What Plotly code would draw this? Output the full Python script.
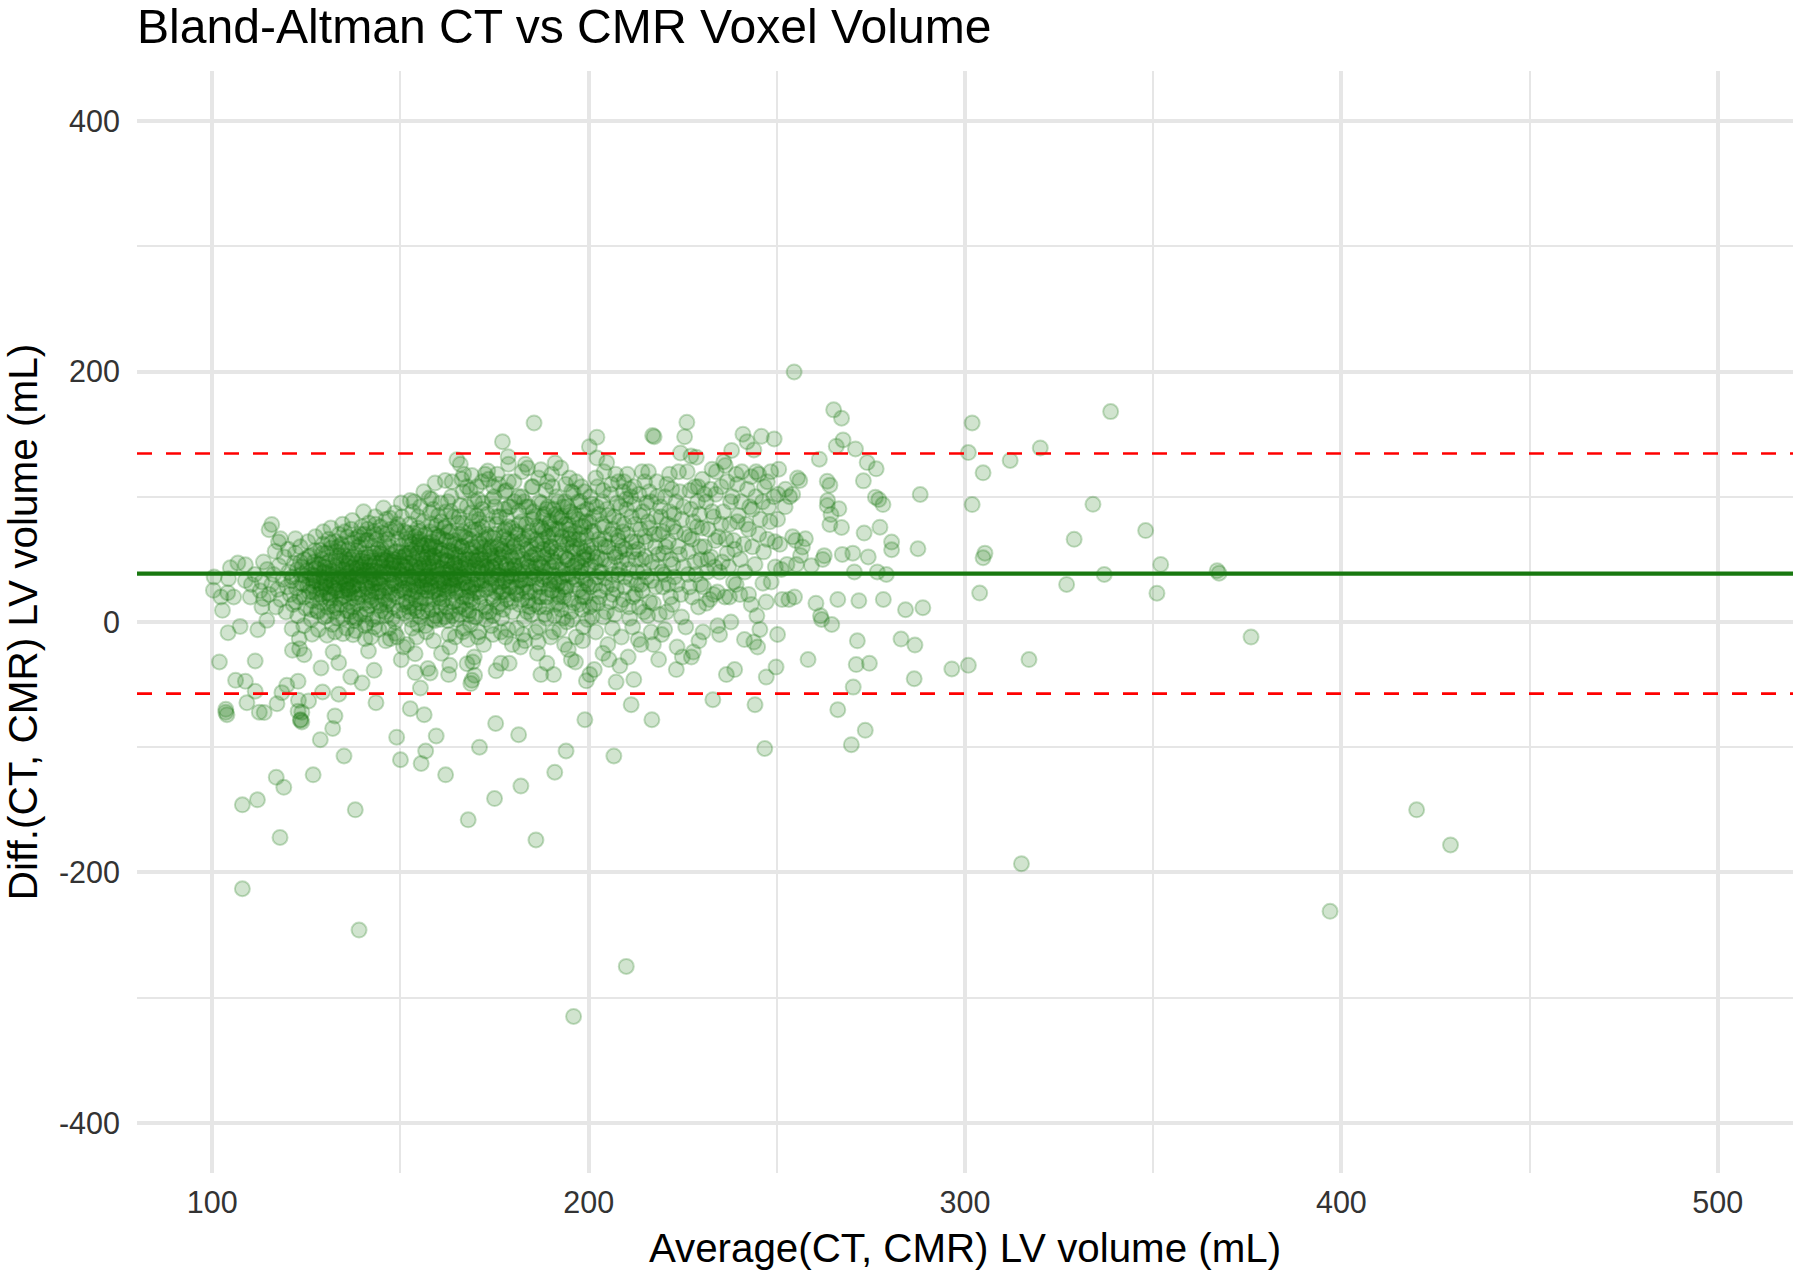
"""Bland-Altman plot of CT vs CMR LV voxel volume."""

import plotly.graph_objects as go

# values as (average, difference) in mL
far_right = [
    (254.6, 199.7), (265.1, 169.4), (267.2, 162.7), (301.9, 159), (338.7, 168), (320, 139), (312, 129),
    (300.9, 135.3), (304.8, 119.1), (301.9, 93.8), (334, 94), (288.1, 101.8), (329, 66), (348, 73),
    (352, 46), (367, 41), (367.5, 39), (305.3, 55), (304.8, 51.3), (303.9, 23.1), (327, 30), (337, 38),
    (351, 23), (376, -12), (296.5, -37.5), (300.9, -34.6), (317, -30), (315, -193), (397, -231),
    (420, -150), (429, -178), (287.5, 58.5), (284.2, 9.8), (288.8, 11.4), (283, -13.6), (286.7, -18.4),
    (286.5, -45.3),
]
low_outliers = [
    (196, -315), (210, -275), (139, -246), (108, -213), (118, -172), (186, -174), (138, -150), (108, -146),
    (112, -142), (117, -124), (119, -132), (168, -158), (175, -141), (182, -131), (191, -120), (194, -103),
    (206.7, -107), (246.8, -101), (269.8, -98), (273.5, -86.5), (266.2, -70), (128.7, -94), (132, -85),
    (132.6, -75), (149, -92), (150, -110), (155.5, -113), (156.7, -103), (159.5, -91), (162, -122),
    (171, -100), (175.3, -81), (181.4, -90), (199, -78), (211.3, -66), (216.8, -78), (233, -62),
    (244.2, -66), (126.8, -122), (135, -107), (123.8, -72), (123.5, -78), (103.6, -72), (103.9, -74),
    (112.5, -72),
]
left_fringe = [
    (100.5, 35.9), (104.3, 34.6), (108.8, 33.2), (100.3, 25.3), (102.3, 20), (104.1, 23.4), (105.7, 20),
    (110.1, 20), (102.7, 9.3), (113.6, 18.6), (113.2, 11.9), (114.5, 1.3), (107.4, -3.5), (104.2, -8.5),
    (112.1, -6.1), (106.8, 47.1), (108.8, 45.7), (104.8, 43.3), (113.6, 47.9), (115.8, 77.9), (115.1, 73.7),
    (118.1, 66.5), (117.6, 63.8), (116.7, 56.4), (122.1, 66.5), (101.9, -31.9), (111.4, -31.1),
    (106.2, -46.6), (108.8, -47.4), (111.4, -55.3), (109.2, -64.4), (103.6, -69.7), (113.8, -72.3),
    (117.2, -65.2), (118.5, -56.4), (119.8, -50.5), (122.8, -47.4), (122.9, -62.5), (125.6, -63),
    (122.8, -71.3), (123.4, -78.5), (123.8, -79.8), (129.3, -55.9), (133.6, -57.7), (143.5, -64.4),
    (121.2, -5.3), (126.5, -9.8), (130.5, -10.6), (123.1, -13.3), (121.3, -22.6), (123.2, -21.3),
    (124.4, -26.1), (132.1, -24), (133.6, -32.5), (128.9, -36.7), (136.8, -43.9), (139.8, -48.7),
    (143, -38.6), (134.7, -9.3), (137.4, -10.1), (140.6, -13.3), (141.5, -23.1),
    (147.3, -13.3), (150.2, -30.1), (150.8, -20), (153.9, -25.3), (153.9, -40.4), (155.3, -52.7),
    (157.3, -37.2), (157.9, -40.7), (162.8, -42), (163.1, -34.6), (167.7, -33.3), (169.2, -31.9),
    (169.7, -42.6), (169, -46.6), (168.7, -49.2), (152.6, -69.2), (156.3, -74),
]
band_110_130 = [
    (110.4, 30), (111.3, 38), (112.7, 25), (113.2, 32), (114.6, 42), (115.1, 22), (115.8, 30), (116.3, 38), (116.9, 12),
    (117.4, 26), (117.7, 45), (118.2, 18), (118.8, 34), (119.1, 52), (119.6, 8), (119.9, 28), (120.3, 40), (120.7, 22),
    (120.2, 58), (121.5, 14), (121.1, 33), (121.8, 47), (122.4, 27), (122.7, 5), (122.1, 55), (123.6, 38), (123.2, 20),
    (123.9, 44), (123.4, 60), (124.1, 30), (124.8, 11), (124.5, 50), (124.3, -3), (125.7, 24), (125.2, 41), (125.9, 35),
    (125.4, 64), (126.6, 17), (126.1, 53), (126.8, 29), (126.3, 2), (126.9, 45), (127.2, 37), (127.7, 22), (127.4, 68),
    (127.9, 9), (127.1, 48), (128.5, 31), (128.2, -6), (128.8, 57), (128.3, 42), (128.6, 16), (128.9, 26), (129.4, 62),
    (129.7, 35), (129.1, 50), (129.8, 4), (129.3, 20), (129.5, 72), (129.9, 44),
]
band_130_150 = [
    (130.2, 28), (130.8, 39), (130.4, 55), (130.6, 12), (130.9, 66), (130.1, 47), (131.3, 22), (131.7, 33), (131.5, 75),
    (131.9, -2), (131.1, 43), (131.6, 59), (131.4, 17), (132.2, 36), (132.8, 51), (132.5, 27), (132.3, 8), (132.9, 64),
    (132.1, 41), (132.6, -8), (133.4, 30), (133.7, 70), (133.2, 46), (133.9, 19), (133.1, 56), (133.6, 38), (133.3, 3),
    (134.7, 25), (134.2, 49), (134.9, 34), (134.4, 62), (134.1, 14), (134.6, 78), (134.8, 42), (135.5, 29), (135.1, 53),
    (135.7, -5), (135.3, 37), (135.9, 68), (135.2, 21), (135.6, 45), (135.8, 9), (136.4, 32), (136.1, 58), (136.7, 40),
    (136.3, 16), (136.9, 74), (136.2, 26), (136.6, 50), (137.5, 35), (137.1, 63), (137.8, 1), (137.3, 44), (137.7, 23),
    (137.2, 81), (137.9, 54), (137.4, 12), (138.6, 30), (138.2, 47), (138.8, 68), (138.4, 38), (138.1, -7), (138.7, 20),
    (138.3, 57), (139.5, 42), (139.1, 26), (139.7, 76), (139.3, 6), (139.9, 51), (139.2, 33), (139.6, 62), (140.4, 15),
    (140.1, 37), (140.7, 48), (140.3, 70), (140.9, 28), (140.2, 88), (140.6, -3), (140.8, 55), (141.2, 41), (141.7, 22),
    (141.4, 65), (141.9, 33), (141.1, 10), (141.6, 79), (141.3, 52), (142.5, 29), (142.1, 45), (142.8, 60), (142.3, 17),
    (142.6, 38), (142.2, -12), (142.9, 72), (143.4, 34), (143.1, 55), (143.7, 24), (143.3, 84), (143.9, 4), (143.2, 47),
    (143.6, 66), (144.8, 30), (144.2, 40), (144.5, 13), (144.1, 58), (144.7, 76), (144.3, -6), (144.9, 49), (145.4, 36),
    (145.1, 21), (145.7, 63), (145.3, 44), (145.5, 91), (145.9, 8), (145.2, 54), (146.6, 27), (146.3, 70), (146.8, 39),
    (146.1, -15), (146.5, 51), (146.9, 17), (146.2, 82), (147.7, 33), (147.2, 60), (147.5, 46), (147.9, 3), (147.1, 24),
    (147.4, 74), (148.3, 38), (148.8, 56), (148.1, 12), (148.5, 87), (148.9, 29), (148.2, 48), (148.6, -9), (149.4, 66),
    (149.1, 20), (149.7, 41), (149.3, 78), (149.9, 35), (149.6, 52),
]
band_150_170 = [
    (150.3, 26), (150.7, 45), (150.1, 60), (150.9, 7), (150.4, 84), (150.6, 33), (150.2, 95), (151.5, 16), (151.2, 53),
    (151.8, 71), (151.4, 38), (151.7, -18), (151.1, 27), (151.9, 47), (152.4, 64), (152.8, 2), (152.1, 35), (152.6, 97),
    (152.3, 55), (152.9, 21), (152.5, 78), (153.2, 42), (153.7, 11), (153.4, 30), (153.9, 68), (153.1, -5), (153.6, 50),
    (153.3, 88), (154.5, 24), (154.1, 59), (154.8, 37), (154.3, -12), (154.6, 75), (154.9, 46), (155.4, 15), (155.1, 66),
    (155.7, 33), (155.3, 92), (155.9, 52), (155.2, 4), (155.6, 28), (156.5, 43), (156.1, 80), (156.8, 19), (156.3, 61),
    (156.2, 104), (156.7, 36), (156.9, -8), (157.4, 55), (157.1, 25), (157.8, 72), (157.3, 9), (157.6, 47), (157.9, 87),
    (157.2, 34), (158.4, 64), (158.8, -15), (158.1, 40), (158.6, 18), (158.3, 98), (158.9, 53), (158.2, 28), (159.5, 77),
    (159.1, 1), (159.7, 44), (159.2, 111), (159.9, 33), (159.4, 60), (160.3, 22), (160.8, 50), (160.1, 85), (160.6, 12),
    (160.4, 38), (160.9, -25), (160.2, 68), (160.7, 95), (161.5, 30), (161.1, 57), (161.8, 4), (161.3, 43), (161.9, 76),
    (161.6, 18), (161.9, 113), (162.4, 49), (162.7, 35), (162.2, 65), (162.9, -10), (162.5, 24), (162.1, 88), (163.6, 56),
    (163.2, 8), (163.8, 40), (163.3, 72), (163.9, 29), (163.5, 100), (163.1, -20), (164.4, 47), (164.8, 17), (164.2, 62),
    (164.6, 34), (164.1, 84), (164.9, 2), (165.5, 53), (165.2, 25), (165, 129.5), (165.8, 70), (165.3, 41), (165.6, 12),
    (165.9, 93), (165.9, 126), (166.4, 60), (166.7, 31), (166.3, 114), (166.9, -5), (166.1, 47), (166.5, 79), (167.6, 20),
    (166.8, 118), (167.2, 54), (167.8, 37), (167.4, 67), (167.9, -14), (168.3, 9), (168.7, 87), (168.1, 44), (168.5, 105),
    (168.9, 28), (168.2, 58), (169, 117), (169.6, -28), (169.2, 16), (169.8, 73), (169.4, 38), (169.7, 96), (169.3, 50),
]
band_170_190 = [
    (170.4, 24), (170.8, 64), (170.1, 4), (170.6, 43), (170.2, 85), (170.9, -8), (170.3, 108), (171.5, 33), (171.2, 54),
    (171.7, 76), (171.1, 15), (171.9, 95), (171.4, 40), (172.3, 60), (172.7, 26), (172.1, -18), (172.8, 70), (172.5, 118),
    (172.2, 47), (173.2, 120.5), (173.6, 8), (173.8, 36), (173.1, 86), (173.4, 114), (173.9, 55), (174.3, 20), (174.7, 67),
    (174.1, -3), (174.5, 43), (174.9, 100), (174.2, 30), (175.6, 78), (175.2, 51), (175.8, 12), (175.4, -39), (175.1, 92),
    (175.9, 38), (176.4, 62), (176.8, 24), (176.1, 110), (176.6, 47), (176.9, 3), (176.7, -33), (177.1, 144), (177.4, 72),
    (177.8, 33), (177.2, 56), (177.6, 90), (177.9, -12), (178.3, 18), (178.7, 42), (178.1, 105), (178.5, 66), (178.9, 28),
    (178.2, 84), (178.6, 132), (178.7, 126), (179.4, 52), (179.8, 8), (178.9, -33), (179.2, 37), (179.6, 75), (180.3, 96),
    (180.7, 23), (180.1, 60), (180.9, -5), (180.5, 45), (180.2, 112), (181.6, 14), (181.2, 70), (181.8, 33), (181.4, 88),
    (181.1, 52), (181.9, -20), (182.3, 120), (182.7, 40), (182.1, 64), (182.9, 2), (182.5, 27), (182.2, 100), (183.2, 126),
    (183.7, 48), (183.4, 78), (183.9, 17), (183.1, -15), (183.6, 58), (183.8, 123), (184.4, 35), (184.1, 92), (184.8, 6),
    (184.3, 69), (184.6, 44), (185.7, 24), (185.2, 108), (185.4, 54), (185.5, 159), (185.9, -8), (185.1, 82), (186.3, 38),
    (186.7, 115), (186.1, 66), (186.9, 12), (186.4, -25), (186.6, 47), (187.3, 121.5), (187.7, 74), (187.1, 28), (187.9, 58),
    (187.5, 95), (187.3, -42), (188.4, 40), (188.8, 3), (188.2, 86), (188.6, 105), (188.9, 20), (188.1, 52), (189.3, 68),
    (189.7, 33), (188.9, -33), (189.1, 112), (189.5, 78), (189.9, -12), (189.4, 46),
]
band_190_210 = [
    (190.3, 25), (190.7, 90), (190.1, 60), (190.9, 5), (190.5, 38), (190.2, 118), (191.1, 127), (190.7, -42), (191.6, 74),
    (191.3, 48), (191.8, 15), (191.4, 100), (192.5, 83), (192.1, 32), (192.7, 55), (192.6, 123), (192.3, -6), (192.9, 68),
    (193.4, 20), (193.7, 96), (193.1, 42), (193.9, 110), (193.2, 3), (193.6, -18), (194.3, 62), (194.7, 78), (194.1, 28),
    (194.9, 115), (194.5, 50), (195.2, 88), (195.6, 2), (195.8, 36), (195.4, -30), (195.1, 70), (195.9, 103), (196.3, 45),
    (196.7, 112), (196.1, 15), (196.9, 58), (196.5, -32), (197.2, 82), (197.6, 26), (197.8, 96), (197.3, 66), (197.9, 40),
    (198.4, -15), (198.1, 108), (198.7, 52), (198.3, 10), (198.9, 76), (199.2, 33), (199.6, 90), (199.4, -47), (199.8, 60),
    (199.1, 20), (200.2, 140), (200.6, 45), (200.8, 72), (200.3, -42), (200.4, 100), (200.9, 4), (201.3, 84), (201.7, 30),
    (201.1, 55), (201.5, -38), (201.9, 115), (202.2, 147.6), (202.2, 131), (202.7, 66), (202.4, 15), (202.9, 40), (202.1, 92),
    (203.3, 50), (203.8, -25), (203.6, 78), (203.1, 25), (203.9, 105), (204.4, 60), (204.1, 120), (204.7, 8), (204.3, 35),
    (204.8, 127.3), (205.3, 85), (205.7, 46), (205.1, -18), (205.9, 70), (206.4, 22), (206.1, 110), (206.8, 55), (206.3, -5),
    (207.2, 118), (207.6, 95), (207.8, 38), (207.3, -48), (207.9, 65), (208.4, 14), (208.1, 80), (208.7, 48), (208.3, -35),
    (209.2, 104), (209.6, 28), (209.8, 58), (209.4, 112), (209.1, 72),
]
band_210_230 = [
    (210.3, 118), (210.7, 42), (210.1, 90), (210.9, 3), (210.5, -28), (211.4, 64), (211.8, 20), (211.2, 100), (212.6, 50),
    (212, -46), (212.3, 78), (212.8, 30), (212.1, 108), (213.4, 12), (213.7, 85), (213.1, 58), (213.9, -18), (214.2, 120),
    (214.6, 40), (214.8, 68), (214.3, 25), (215.4, 95), (215.7, 5), (215.1, 52), (215.9, 120), (216.3, 75), (216.6, -8),
    (216.8, 33), (216.1, 104), (217, 149), (217.4, 148), (217.7, 60), (217.2, 15), (217.9, 84), (218.3, 44), (218.6, -30),
    (218.1, 112), (218.8, 70), (219.4, -10), (219.7, 28), (219.1, 92), (219.9, 55), (220.3, 100), (220.7, 8), (220.1, 38),
    (220.9, 78), (221.5, 118), (221.2, 64), (221.8, 20), (222.4, 46), (222.1, 106), (222.7, 86), (223.3, -38), (223.6, 30),
    (223.1, 72), (223.9, 120), (224.4, 135), (224.2, 54), (224.7, 4), (224.9, -28), (225.5, 148), (225.2, 92), (226.1, 159.5),
    (226.4, 38), (226.7, 68), (226.9, 105), (227.2, 132.6), (227.5, 20), (227.8, 80), (227.3, -28), (228.6, 131.6), (228.2, 48),
    (228.9, 96), (229.3, -15), (229.6, 60), (229.1, 108), (229.8, 30), (230.4, -8),
]
band_230_260 = [
    (230.2, 75), (230.8, 102), (231.3, 15), (231.7, 50), (232.4, 106), (232.8, 88), (233.2, 22), (233.6, 65), (233.9, 120),
    (234.3, -3), (234.8, 40), (235.2, 78), (235.9, 128), (236.3, 125), (236.6, -42), (236.8, 55), (237.4, 20), (237.7, 96),
    (238, 137), (238.5, 65), (238.8, -38), (239.2, 30), (239.5, 110), (239.8, 85), (240.3, 50), (240.7, 120), (241, 150),
    (241.4, -14), (241.8, 78), (242.1, 144), (242.5, 22), (242.8, 92), (243.2, 116), (243.5, 60), (243.9, -16), (243.9, 137.4),
    (244.4, 100), (244.7, 5), (244.9, -20), (245.9, 148.3), (245.2, 118), (245.6, 82), (246.3, 31), (246.7, 108), (247.2, -44),
    (247.5, 66), (247.8, 92), (248.4, 120), (249.3, 146.2), (249.6, 44), (249.8, -36), (250.2, -10), (250.5, 122), (250.8, 62),
    (250.3, 102), (251.4, 18), (252.3, 106), (252.7, 46), (253.4, 100), (254.2, 68), (254.7, 20), (255, 65.1), (255.5, 115),
    (256.1, 113), (256.8, 59.8), (256.3, 53.1), (257.6, 66.4), (258.3, -30), (259.2, 45), (260.4, 15), (261.3, 130), (261.6, 5),
    (261.9, 2), (262.2, 50), (262.6, 53), (263.4, 112.4), (264.1, 109.3), (263.5, 97), (263.4, 93), (264.1, 77.9), (264.4, 85.9),
    (264.6, -2), (266.5, 90.4), (267.2, 75.5), (267.4, 54), (266.2, 18), (265.8, 140.4), (267.6, 145.4), (270.2, 55), (270.6, 40),
    (271.1, -34), (270.3, -52), (271.4, -15), (271.8, 17), (270.9, 138.2), (273, 112.7), (273.2, 71), (274.3, 52), (274, 127.3),
    (274.6, -33), (276.2, 99.7), (277.1, 97.8), (278.2, 93.8), (277.4, 75.7), (276.4, 122.3), (276.7, 40), (278.3, 18), (279.1, 38),
    (280.5, 63.8), (280.5, 57.7),
]
core_a = [
    (121.3, 36), (122.6, 42), (123.8, 31), (124.7, 37), (125.3, 29), (126.4, 38), (126.7, 24), (127.6, 33), (128.4, 46), (128.7, 36),
    (129.2, 28), (129.6, 40), (130.3, 33), (130.7, 23), (131.2, 49), (131.8, 38), (132.4, 31), (132.7, 44), (133.3, 25), (133.8, 53),
    (134.3, 36), (134.5, 20), (135.4, 41), (135.7, 31), (136.2, 47), (136.5, 23), (136.8, 35), (137.3, 52), (137.6, 29), (138.3, 43),
    (138.5, 15), (138.9, 60), (139.4, 36), (139.8, 22), (140.3, 46), (140.5, 31), (140.9, 65), (141.5, 39), (141.8, 13), (142.3, 52),
    (142.4, 25), (142.7, 41), (143.3, 31), (143.5, 70), (143.8, 16), (144.4, 47), (144.6, 35), (144.2, 24), (145.1, 58), (145.6, 40),
    (145.8, 27), (146.2, 49), (146.4, 14), (146.7, 66), (147.3, 38), (147.6, 54), (147.8, 22), (148.2, 43), (148.4, 31), (148.7, 75),
    (149.2, 56), (149.5, 9), (149.8, 47), (123.4, 48), (125.6, 52), (127.3, 57), (129.4, 55), (131.6, 63), (133.5, 60), (135.2, 72),
    (137.7, 66), (139.3, 70), (141.2, 74), (143.4, 78), (145.3, 71), (147.2, 83), (149.4, 72), (122.2, 16), (124.4, 20), (126.2, 10),
    (128.1, 8), (130.5, 5), (132.3, 13), (134.8, 3), (136.6, 8), (138.2, 3), (140.7, 6), (142.6, 2), (144.8, 9), (146.3, 5),
    (148.6, 0), (127.5, 43), (129.9, 31), (132.9, 25), (135.6, 50), (137.4, 28), (139.6, 49), (141.3, 27), (143.6, 41), (145.4, 50),
    (147.5, 30), (149.3, 42), (131.4, 29), (133.7, 33), (135.9, 26), (138.7, 37), (140.2, 41), (142.8, 35), (144.3, 31), (146.6, 43),
    (148.3, 50), (136.3, 37), (139.2, 44), (141.7, 48), (144.7, 55), (147.7, 48), (134.2, 58), (137.9, 19), (142.1, 20), (145.9, 18),
    (149.7, 25), (133.1, 11), (136.9, 4), (140.8, -1), (143.1, -4), (146.9, -5), (149.1, -12), (128.6, 22), (131.1, 19), (126.9, 33),
]
core_b = [
    (150.3, 38), (150.8, 52), (151.1, 24), (151.4, 66), (151.7, 41), (152.1, 30), (152.4, 47), (152.7, 15), (152.9, 58), (153.2, 36),
    (153.5, 71), (153.8, 24), (154.1, 44), (154.4, 9), (154.6, 55), (154.9, 33), (155.2, 62), (155.5, 20), (155.8, 40), (156.1, 50),
    (156.4, 28), (156.6, 70), (156.9, 37), (157.2, 14), (157.5, 45), (157.7, 58), (158.1, 31), (158.3, 78), (158.6, 24), (158.8, 48),
    (159.1, 60), (159.4, 5), (159.6, 38), (159.9, 68), (160.2, 43), (160.4, 19), (160.7, 55), (160.9, 80), (161.2, 32), (161.4, 66),
    (161.7, 26), (161.9, 49), (162.2, 12), (162.4, 40), (162.7, 72), (162.9, 57), (163.2, 29), (163.4, 88), (163.7, 48), (163.9, 16),
    (164.2, 38), (164.4, 65), (164.7, 24), (164.9, 52), (165.2, 79), (165.4, 33), (165.7, 6), (165.9, 44), (166.2, 60), (166.4, 20),
    (166.7, 72), (166.9, 36), (167.2, 50), (167.4, 10), (167.7, 92), (167.9, 28), (168.2, 41), (168.4, 66), (168.7, 18), (168.9, 55),
    (169.2, 80), (169.4, 30), (169.7, 4), (169.9, 46), (170.2, 60), (170.5, 34), (170.7, 74), (171.2, 20), (171.4, 50), (171.7, 90),
    (172.1, 38), (172.4, 66), (172.6, 12), (172.9, 44), (173.2, 78), (173.5, 27), (173.7, 58), (174.1, 35), (174.4, 98), (174.6, 5),
    (174.9, 48), (175.2, 70), (175.4, 24), (175.7, 60), (176.1, 40), (176.3, 84), (176.6, 15), (176.9, 52), (177.2, 32), (177.5, 68),
    (177.7, 104), (178.1, 44), (178.4, 22), (178.6, 76), (178.9, 56), (179.2, 92), (179.5, 36), (179.8, 64), (155.3, 43), (158.2, 51),
    (161.3, 35), (164.3, 46), (167.3, 31), (170.3, 49), (173.3, 42), (176.3, 37), (179.3, 28), (153.3, 52), (156.3, 34), (159.3, 25),
    (162.3, 53), (165.3, 60), (168.3, 25), (171.3, 62), (174.3, 53), (177.3, 24), (151.3, 44), (154.3, 28), (157.3, 63), (160.3, 31),
    (163.3, 42), (166.3, 26), (169.3, 60), (172.3, 33), (175.3, 45), (178.3, 60), (152.3, 8), (156.7, -3), (160.6, 2), (164.6, -12),
    (168.6, -2), (172.7, 2), (176.7, -8), (179.7, -18), (154.7, 84), (158.7, 90), (162.6, 96), (166.6, 104), (170.6, 98), (174.7, 108),
    (178.7, 112), (163.7, 112), (167.7, 108), (171.7, 112), (175.7, 118), (153.6, 96), (157.6, 99),
]
core_c = [
    (180.3, 44), (180.6, 72), (180.8, 28), (181.2, 56), (181.4, 100), (181.7, 38), (182.1, 80), (182.3, 18), (182.6, 50), (182.8, 66),
    (183.2, 34), (183.4, 92), (183.7, 8), (183.9, 44), (184.2, 72), (184.4, 24), (184.7, 60), (184.9, 108), (185.2, 40), (185.4, 84),
    (185.7, 14), (185.9, 54), (186.2, 30), (186.4, 76), (186.7, -4), (186.9, 96), (187.2, 46), (187.4, 20), (187.7, 64), (187.9, 84),
    (188.2, 36), (188.4, 72), (188.7, 12), (188.9, 54), (189.2, 92), (189.4, 26), (189.7, 80), (189.9, 60), (190.2, 44), (190.4, 108),
    (190.7, 70), (190.9, 32), (191.2, 86), (191.4, 56), (191.7, 22), (191.9, 96), (192.2, 74), (192.4, 42), (192.7, 10), (192.9, 84),
    (193.2, 62), (193.4, 28), (193.7, 52), (193.9, 78), (194.2, 0), (194.4, 92), (194.7, 38), (194.9, 66), (195.2, 18), (195.4, 104),
    (195.7, 56), (195.9, 84), (196.2, 30), (196.4, 72), (196.7, -12), (196.9, 48), (197.2, 96), (197.4, 14), (197.7, 60), (197.9, 76),
    (198.2, 36), (198.4, 88), (198.7, 24), (198.9, 104), (199.2, 50), (199.4, 68), (199.7, 2), (199.9, 42), (200.2, 80), (200.4, 28),
    (200.7, 60), (200.9, 94), (201.2, 14), (201.4, 72), (201.7, 48), (201.9, -8), (202.2, 36), (202.4, 108), (202.7, 86), (202.9, 20),
    (203.2, 62), (203.4, 40), (203.7, 96), (203.9, 4), (204.2, 76), (204.4, 50), (204.7, 28), (204.9, 90), (205.2, 60), (205.4, -30),
    (205.7, 16), (205.9, 102), (206.2, 38), (206.4, 74), (206.7, 84), (206.9, 6), (207.2, 52), (207.4, 26), (207.7, 68), (207.9, 112),
    (208.2, 42), (208.4, 92), (208.7, -12), (208.9, 60), (209.2, 18), (209.4, 78), (209.7, 36), (209.9, 98), (210.2, 50), (210.4, 70),
    (210.7, 12), (210.9, 106), (211.2, 34), (211.4, 84), (211.7, -4), (211.9, 56), (212.2, 94), (212.4, 22), (212.7, 64), (212.9, 40),
    (213.2, -14), (213.4, 102), (213.7, 74), (213.9, 30), (214.2, 50), (214.4, 88), (214.7, 8), (214.9, 112),
]
core_d = [
    (215.2, 64), (215.5, 36), (215.8, 80), (216.2, 16), (216.5, 96), (216.8, 48), (217.2, -18), (217.5, 70), (217.8, 28), (218.2, 100),
    (218.5, 54), (218.8, 6), (219.2, 84), (219.5, 40), (219.8, 72), (220.2, -6), (220.5, 60), (220.8, 110), (221.2, 30), (221.5, 88),
    (221.8, 50), (222.2, 14), (222.5, 76), (222.8, 36), (223.2, 96), (223.5, -20), (223.8, 60), (224.2, 104), (224.5, 22), (224.8, 82),
    (225.2, 44), (225.5, 70), (225.8, -4), (226.2, 120), (226.5, 56), (226.8, 28), (227.2, 90), (227.5, 66), (227.8, -24), (228.2, 108),
    (228.5, 38), (228.8, 76), (229.2, 12), (229.5, 86), (229.8, 50), (230.2, 114), (230.5, 28), (230.8, 60), (231.2, 96), (231.5, 40),
    (231.8, 74), (232.2, 18), (232.5, 52), (232.8, 122), (233.2, 84), (233.5, 44), (233.8, 102), (234.2, 24), (234.5, 68), (234.8, -10),
    (235.2, 108), (235.5, 48), (235.8, 88), (236.2, 20), (236.5, 66), (236.8, 112), (237.2, 44), (237.5, 78), (237.8, 0), (238.2, 100),
    (238.5, 32), (238.8, 58), (239.2, 118), (239.5, 80), (240.2, 22), (240.5, 96), (241.2, 62), (241.5, 40), (242.2, 106), (242.5, 74),
    (243.2, 14), (243.5, 90), (244.2, 46), (244.5, 120), (245.2, 70), (245.5, -6), (246.2, 96), (246.5, 56), (247.2, 16), (247.5, 112),
    (248.2, 80), (248.5, 32), (249.2, 100), (249.5, 64), (250.2, 82), (251.2, 42), (252.2, 92), (253.2, 18), (254.2, 102), (255.2, 46),
]
# darker patches of the cloud, x 150-200
core_e = [
    (151.6, 55), (152.2, 12), (153.1, 62), (153.9, 40), (154.2, 18), (155.1, 72), (155.9, 8), (156.2, 47), (157.1, 30), (157.8, 60),
    (158.4, 10), (158.9, 70), (159.8, 41), (160.5, 58), (161.1, 16), (161.6, 75), (162.6, 28), (163.1, 64), (163.8, 5), (164.5, 54),
    (165.1, 36), (165.6, 84), (166.5, 14), (167.1, 68), (167.6, 42), (168.1, 6), (168.8, 74), (169.5, 23), (170.1, 52), (170.9, 82),
    (171.6, 30), (172.2, 56), (172.8, 8), (173.4, 68), (174.2, 44), (174.8, 18), (175.5, 84), (176.2, 28), (176.7, 58), (177.3, 10),
    (177.9, 74), (178.2, 36), (178.8, 92), (179.4, 16), (179.9, 50), (180.4, 62), (181.1, 22), (181.5, 78), (182.2, 46), (182.9, 96),
    (183.3, 30), (183.8, 68), (184.3, 12), (184.8, 52), (185.3, 88), (185.8, 36), (186.3, 62), (186.8, 20), (187.3, 76), (187.8, 44),
    (188.3, 6), (188.8, 90), (189.3, 58), (189.8, 30), (190.3, 74), (190.8, 48), (191.3, 14), (191.8, 84), (192.3, 64), (192.8, 36),
    (193.3, 92), (193.8, 26), (194.3, 50), (194.8, 74), (195.3, 8), (195.8, 60), (196.3, 86), (196.8, 34), (197.3, 48), (197.8, 70),
    (198.3, 20), (198.8, 56), (199.3, 80), (199.8, 30), (151.2, 72), (152.8, 36), (154.8, 64), (156.8, 52), (158.5, 36), (160.1, 26),
    (162.1, 42), (164.1, 30), (166.1, 38), (168.1, 50), (170.1, 30), (172.1, 50), (174.1, 60), (176.1, 54), (178.1, 46), (180.1, 38),
    (182.1, 34), (184.1, 56), (186.1, 44), (188.1, 66), (190.1, 52), (192.1, 20), (194.1, 38), (196.1, 66), (198.1, 44), (152.6, 26),
    (155.6, 60), (159.2, 52), (163.4, 34), (167.4, 46), (171.6, 44), (175.6, 32), (179.6, 42), (183.6, 24), (187.6, 34), (191.6, 30),
    (195.6, 44), (199.6, 54), (150.6, 14), (154.6, -2), (158.6, 2), (162.6, 1), (166.6, -8), (170.6, -12), (174.6, -10), (178.6, -6),
    (182.6, -10), (186.6, -16), (190.6, -8), (194.6, -22), (198.6, -4), (200.3, 12), (202.3, 52), (204.3, 66), (206.3, 30), (208.3, 56),
]
X_RANGE = [80, 520]
Y_RANGE = [-440, 440]


def pairs(*groups):
    pts = [p for g in groups for p in g]
    return [p[0] for p in pts], [p[1] for p in pts]


avg, diff = pairs(far_right, low_outliers, left_fringe, band_110_130, band_130_150, band_150_170,
                  band_170_190, band_190_210, band_210_230, band_230_260, core_a, core_b, core_c, core_d, core_e)

MEAN_DIFF = 38.6
LOA_UPPER = 134.5
LOA_LOWER = -57.2

X_TICKS = [100, 200, 300, 400, 500]
X_MINOR = [150, 250, 350, 450]
Y_TICKS = [-400, -200, 0, 200, 400]
Y_TICK_TEXT = ["-400", "-200", "0", "200", "400"]
Y_MINOR = [-300, -100, 100, 300]

GREEN = "rgb(24,120,16)"
GRID = "#e6e6e6"
FONT = "Liberation Sans, Arial, sans-serif"

fig = go.Figure()
fig.add_trace(go.Scatter(
    x=avg, y=diff,
    mode="markers",
    marker=dict(size=15, color="rgba(24,120,16,0.2)", line=dict(color="rgba(24,120,16,0.25)", width=2)),
    showlegend=False,
))
fig.add_trace(go.Scatter(
    x=X_RANGE, y=[MEAN_DIFF, MEAN_DIFF],
    mode="lines", line=dict(color=GREEN, width=4.2), showlegend=False,
))
for level in (LOA_UPPER, LOA_LOWER):
    fig.add_trace(go.Scatter(
        x=X_RANGE, y=[level, level],
        mode="lines", line=dict(color="#ff0000", width=2.6, dash="15px,14px"), showlegend=False,
    ))

fig.update_layout(
    width=1800, height=1278,
    autosize=False,
    paper_bgcolor="white",
    plot_bgcolor="white",
    font=dict(family=FONT, color="#333333", size=30.5),
    margin=dict(l=137, r=7, t=71, b=105),
    title=dict(
        text="Bland-Altman CT vs CMR Voxel Volume",
        font=dict(family=FONT, color="black", size=48.1),
        x=137 / 1800, xanchor="left",
        y=1 - 26 / 1278, yanchor="middle",
    ),
)
fig.update_xaxes(
    range=X_RANGE, tickmode="array", tickvals=X_TICKS, ticks="", ticklabelstandoff=8,
    showgrid=True, gridcolor=GRID, gridwidth=3.8, zeroline=False, showline=False,
    minor=dict(tickmode="array", tickvals=X_MINOR, showgrid=True, gridcolor=GRID, gridwidth=2, ticks=""),
    title=dict(text="Average(CT, CMR) LV volume (mL)", font=dict(family=FONT, size=40.3, color="black"), standoff=16),
)
fig.update_yaxes(
    range=Y_RANGE, tickmode="array", tickvals=Y_TICKS, ticktext=Y_TICK_TEXT, ticks="", ticklabelstandoff=16,
    showgrid=True, gridcolor=GRID, gridwidth=3.8, zeroline=False, showline=False,
    minor=dict(tickmode="array", tickvals=Y_MINOR, showgrid=True, gridcolor=GRID, gridwidth=2, ticks=""),
    title=dict(text="Diff.(CT, CMR) LV volume (mL)", font=dict(family=FONT, size=40.5, color="black"), standoff=14),
)

fig.write_html("out.html", config=dict(displayModeBar=False), post_script="document.body.style.margin='0';")
